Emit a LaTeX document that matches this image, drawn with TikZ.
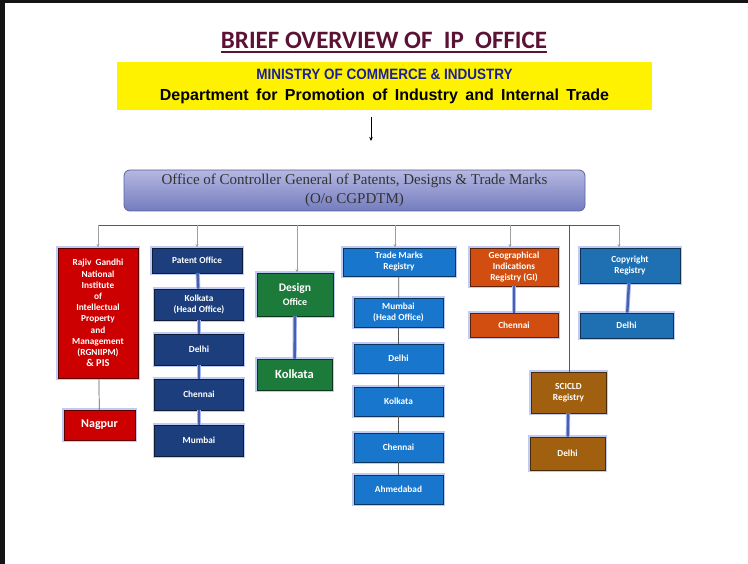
\documentclass[tikz,border=0pt]{standalone}
\usepackage{fontspec}
\setmainfont{Carlito}
\newfontfamily\arialfont{Liberation Sans}
\newfontfamily\narrowfont[FakeStretch=0.9]{Liberation Sans}
\newfontfamily\boxserif{Liberation Serif}
\usepackage{tikz}
\usetikzlibrary{arrows.meta,positioning}
\definecolor{titlemaroon}{RGB}{92,18,52}
\definecolor{ministryblue}{RGB}{28,32,150}
\definecolor{cgtop}{RGB}{180,184,226}
\definecolor{cgbottom}{RGB}{116,124,190}
\definecolor{cgborder}{RGB}{90,98,160}
\definecolor{rgred}{RGB}{204,0,0}
\definecolor{navy}{RGB}{28,62,125}
\definecolor{dgreen}{RGB}{28,122,58}
\definecolor{tmblue}{RGB}{24,118,204}
\definecolor{giorange}{RGB}{210,78,16}
\definecolor{crblue}{RGB}{30,112,178}
\definecolor{brownbox}{RGB}{160,96,16}
\definecolor{glowblue}{RGB}{170,185,240}
\definecolor{linkblue}{RGB}{70,95,175}
\tikzset{
  orgbox/.style={fill=#1,draw=#1!45!black,line width=0.9pt,text=white,align=center,
    font=\bfseries\fontsize{9.3}{11}\selectfont,inner sep=1pt,
    preaction={draw=glowblue,line width=3.6pt,opacity=0.75}},
  dim/.style 2 args={minimum width=#1pt,minimum height=#2pt},
  cgbox/.style={rounded corners=6pt,draw=cgborder,line width=0.8pt,top color=cgtop,bottom color=cgbottom,
    minimum width=461pt,minimum height=41pt,align=center,text=black!80,
    font=\boxserif\fontsize{15}{19}\selectfont},
  drop/.style={-{Stealth[length=3.5pt,width=3pt]},draw=gray!75,line width=0.6pt},
  thinlink/.style={draw=gray!70!black,line width=0.7pt},
  thicklink/.style={draw=linkblue,line width=2.4pt,preaction={draw=glowblue,line width=4.2pt}}
}

\begin{document}
\begin{tikzpicture}[x=1pt,y=-1pt]
  \useasboundingbox (0,0) rectangle (748,564);
  \fill[black!92] (0,0) rectangle (5,564);
  \fill[black!92] (0,0) rectangle (748,3);
  % heading and ministry
  \node[inner sep=0pt,text=titlemaroon,font=\bfseries\fontsize{25}{30}\selectfont] (title) at (384,40) {BRIEF OVERVIEW OF\ \ IP\ \ OFFICE};
  \draw[titlemaroon,line width=1.8pt] ([yshift=-3.5pt]title.base west) -- ([yshift=-3.5pt]title.base east);
  \node[fill=yellow,minimum width=535pt,minimum height=48pt,align=center,inner sep=0pt,
    font=\arialfont\bfseries\fontsize{16}{21}\selectfont] (dpiit) at (384.5,86)
    {{\narrowfont\fontsize{15}{21}\selectfont\color{ministryblue}MINISTRY OF COMMERCE \& INDUSTRY}\\
     {\spaceskip=7.4pt plus 1pt Department for Promotion of Industry and Internal Trade}};
  \coordinate (a1) at (371,117);
  \coordinate (a2) at (371,141);
  \draw[-{Stealth[length=4pt,width=3.5pt]},line width=0.7pt] (a1) -- (a2);
  \node[cgbox] (cg) at (354.5,190.5) {Office of Controller General of Patents, Designs \& Trade Marks\\(O/o CGPDTM)};
  % bus
  \coordinate (b1) at (98,225);
  \coordinate (b2) at (197,225);
  \coordinate (b3) at (297,225);
  \coordinate (b4) at (395,225);
  \coordinate (b5) at (510,225);
  \coordinate (b6) at (569,225);
  \coordinate (b7) at (619,225);
  % RGNIIPM
  \node[orgbox=rgred,dim={80}{130},font=\bfseries\fontsize{9.3}{11.2}\selectfont] (rg) at (98,313)
    {Rajiv\ \ Gandhi\\National\\Institute\\of\\Intellectual\\Property\\and\\Management\\(RGNIIPM)\\{\fontsize{10.5}{11}\selectfont\& PIS}};
  \node[orgbox=rgred,dim={71}{30},font=\bfseries\fontsize{12}{13}\selectfont] (ng) at (99.5,425) {Nagpur};
  % patent office
  \node[orgbox=navy,dim={90}{25}] (po) at (197,260.5) {Patent Office};
  \node[orgbox=navy,dim={89}{31}] (pk) at (199,304.5) {Kolkata\\(Head Office)};
  \node[orgbox=navy,dim={89}{31}] (pd) at (199,349.5) {Delhi};
  \node[orgbox=navy,dim={89}{31}] (pc) at (199,394.5) {Chennai};
  \node[orgbox=navy,dim={89}{31}] (pm) at (199,440.5) {Mumbai};
  % design office
  \node[orgbox=dgreen,dim={76}{43},font=\bfseries\fontsize{11.6}{14}\selectfont] (des) at (295,294.5) {Design\\{\fontsize{10}{12}\selectfont Office}};
  \node[orgbox=dgreen,dim={75}{31},font=\bfseries\fontsize{12.5}{14}\selectfont] (dk) at (294.5,374.5) {Kolkata};
  % trade marks
  \node[orgbox=tmblue,dim={112}{28}] (tm) at (399,262) {Trade Marks\\Registry};
  \node[orgbox=tmblue,dim={89}{29}] (tmm) at (398.5,312.5) {Mumbai\\(Head Office)};
  \node[orgbox=tmblue,dim={89}{29}] (tmd) at (398.5,358.5) {Delhi};
  \node[orgbox=tmblue,dim={89}{29}] (tmk) at (398.5,401.5) {Kolkata};
  \node[orgbox=tmblue,dim={89}{29}] (tmc) at (398.5,447.5) {Chennai};
  \node[orgbox=tmblue,dim={89}{29}] (tma) at (398.5,489.5) {Ahmedabad};
  % GI, copyright, SCICLD
  \node[orgbox=giorange,dim={88}{38}] (gi) at (514,267) {Geographical\\Indications\\Registry (GI)};
  \node[orgbox=giorange,dim={88}{24}] (gic) at (514,325) {Chennai};
  \node[orgbox=crblue,dim={100}{35}] (cr) at (630,265.5) {Copyright\\Registry};
  \node[orgbox=crblue,dim={93}{25}] (crd) at (626.5,325.5) {Delhi};
  \node[orgbox=brownbox,dim={75}{41}] (sc) at (568.5,392.5) {SCICLD\\Registry};
  \node[orgbox=brownbox,dim={75}{33}] (scd) at (567.5,453.5) {Delhi};
  % connectors
  \draw[thinlink] (b1) -- (b7);
  \foreach \b/\n in {b1/rg,b2/po,b3/des,b4/tm,b5/gi,b7/cr}
    \draw[drop] (\b) -- (\b |- \n.north);
  \draw[thinlink] (b6) -- (b6 |- sc.north);
  \draw[thinlink] (rg) -- (ng);
  \foreach \a/\b in {po/pk,pk/pd,pd/pc,pc/pm,des/dk,gi/gic,cr/crd,sc/scd}
    \draw[thicklink] (\a) -- (\b);
  \foreach \a/\b in {tm/tmm,tmm/tmd,tmd/tmk,tmk/tmc,tmc/tma}
    \draw[thinlink] (\a) -- (\b);
\end{tikzpicture}
\end{document}
